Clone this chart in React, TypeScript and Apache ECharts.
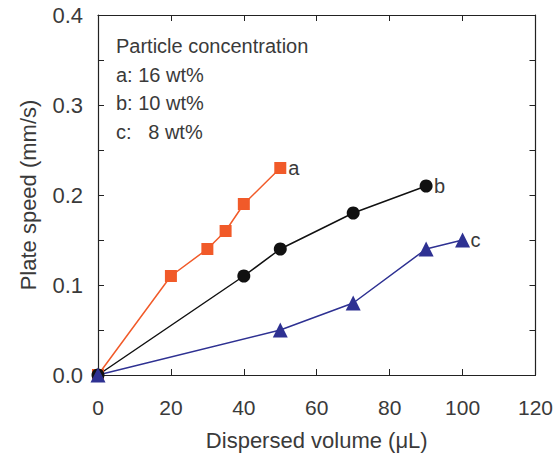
import React, { useEffect, useRef } from "react";
import * as echarts from "echarts";

const seriesA: [number, number][] = [[0, 0], [20, 0.11], [30, 0.14], [35, 0.16], [40, 0.19], [50, 0.23]];
const seriesB: [number, number][] = [[0, 0], [40, 0.11], [50, 0.14], [70, 0.18], [90, 0.21]];
const seriesC: [number, number][] = [[0, 0], [50, 0.05], [70, 0.08], [90, 0.14], [100, 0.15]];
const seriesNames = ["a", "b", "c"];
const legendLines = ["Particle concentration", "a: 16 wt%", "b: 10 wt%", "c:   8 wt%"];

const FONT = "Liberation Sans, Arial, sans-serif";
const TXT = "#3a3a3a";

export default function App() {
  const ref = useRef<HTMLDivElement>(null);
  useEffect(() => {
    const chart = echarts.init(ref.current!, undefined, { renderer: "svg" });
    const mk = (name: string, data: [number, number][], color: string, symbol: string, size: number) => ({
      name,
      type: "line",
      data,
      symbol,
      symbolSize: size,
      lineStyle: { color, width: 1.5 },
      itemStyle: { color },
      label: { show: false },
      endLabel: {
        show: true,
        formatter: name,
        color: TXT,
        fontSize: 20,
        fontFamily: FONT,
        distance: 8,
      },
    });
    const tick = { inside: true, length: 6, lineStyle: { color: "#222" } };
    const line = { show: true, onZero: false, lineStyle: { color: "#222", width: 1.2 } };
    chart.setOption({
      animation: false,
      grid: { left: 98, right: 18, top: 15, bottom: 85, show: false },
      xAxis: [
        {
          type: "value", min: 0, max: 120, interval: 20,
          axisLine: line, splitLine: { show: false }, axisTick: tick,
          axisLabel: { color: TXT, fontSize: 21, fontFamily: FONT, margin: 22 },
          name: "Dispersed volume (\u03bcL)", nameLocation: "middle", nameGap: 54,
          nameTextStyle: { color: TXT, fontSize: 22, fontFamily: FONT },
        },
        {
          type: "value", min: 0, max: 120, interval: 20, position: "top",
          axisLine: line, splitLine: { show: false }, axisTick: tick,
          axisLabel: { show: false },
        },
      ],
      yAxis: [
        {
          type: "value", min: 0, max: 0.4, interval: 0.1,
          axisLine: line, splitLine: { show: false }, axisTick: tick,
          minorTick: { show: true, splitNumber: 2, length: 6, lineStyle: { color: "#222" } },
          axisLabel: { color: TXT, fontSize: 22, fontFamily: FONT, margin: 15, formatter: (v: number) => v.toFixed(1) },
          name: "Plate speed (mm/s)", nameLocation: "middle", nameGap: 59, nameRotate: 90,
          nameTextStyle: { color: TXT, fontSize: 22, fontFamily: FONT },
        },
        {
          type: "value", min: 0, max: 0.4, interval: 0.1, position: "right",
          axisLine: line, splitLine: { show: false }, axisTick: tick,
          minorTick: { show: true, splitNumber: 2, length: 6, lineStyle: { color: "#222" } },
          axisLabel: { show: false },
        },
      ],
      graphic: legendLines.map((t, i) => ({
        type: "text",
        left: 116,
        top: 36 + i * 28.5,
        style: { text: t, fill: TXT, fontSize: 20, fontFamily: FONT },
      })),
      series: [
        mk(seriesNames[0], seriesA, "#f15a29", "rect", 12),
        mk(seriesNames[1], seriesB, "#111111", "circle", 13),
        mk(seriesNames[2], seriesC, "#2e3192", "triangle", 15),
      ],
    });
    return () => chart.dispose();
  }, []);
  return <div ref={ref} style={{ position: "absolute", left: 0, top: 0, width: 556, height: 460 }} />;
}
